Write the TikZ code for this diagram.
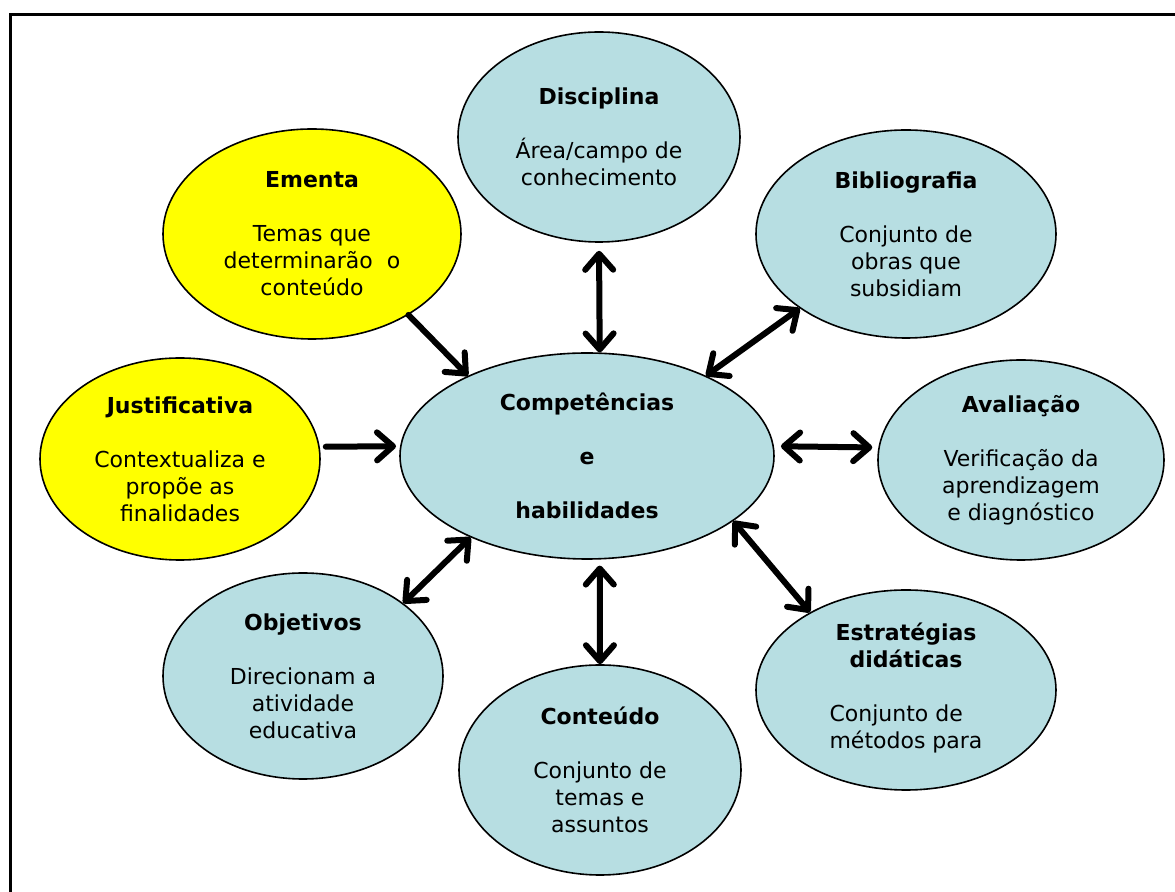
\documentclass[tikz,border=0pt]{standalone}
\usepackage{fontspec}
\setmainfont{DejaVu Sans}
\usetikzlibrary{shapes.geometric, arrows.meta}
\definecolor{bubblue}{RGB}{183,222,226}
\definecolor{bubyellow}{RGB}{255,255,0}
\tikzstyle{bubble} = [ellipse, draw=black, line width=0.8pt, inner sep=0pt, align=center, font=\fontsize{11}{13.5}\selectfont, fill=bubblue]
\tikzstyle{yellowbubble} = [bubble, fill=bubyellow]
\tikzstyle{arrow} = [line width=3pt, line cap=round, -{Straight Barb[length=8pt,width=14pt,round]}]
\tikzstyle{dblarrow} = [arrow, {Straight Barb[length=8pt,width=14pt,round]}-{Straight Barb[length=8pt,width=14pt,round]}]

\begin{document}
\begin{tikzpicture}[x=0.5pt, y=-0.5pt]
    \useasboundingbox (0,0) rectangle (1175,892);
    % frame
    \draw [line width=1.5pt] (1175,15) -- (10,15) -- (10,892);

    % center
    \node (comp) [bubble, minimum width=187pt, minimum height=103pt] at (587,456) {\textbf{Competências}\\[13.5pt]\textbf{e}\\[13.5pt]\textbf{habilidades}};

    % around it
    \node (disc) [bubble, minimum width=141pt, minimum height=105pt] at (599,137) {\textbf{Disciplina}\\[13.5pt]Área/campo de\\conhecimento};
    \node (bib) [bubble, minimum width=150pt, minimum height=104pt] at (906,234) {\textbf{Bibliografia}\\[13.5pt]Conjunto de\\obras que\\subsidiam};
    \node (ementa) [yellowbubble, minimum width=149pt, minimum height=105pt] at (312,234) {\textbf{Ementa}\\[13.5pt]Temas que\\determinarão~ o\\conteúdo};
    \node (just) [yellowbubble, minimum width=140pt, minimum height=101pt] at (180,459) {\textbf{Justificativa}\\[13.5pt]Contextualiza e\\propõe as\\finalidades};
    \node (aval) [bubble, minimum width=143pt, minimum height=100pt] at (1021,460) {\textbf{Avaliação}\\[13.5pt]Verificação da\\aprendizagem\\e diagnóstico};
    \node (obj) [bubble, minimum width=140pt, minimum height=103pt] at (303,676) {\textbf{Objetivos}\\[13.5pt]Direcionam a\\atividade\\educativa};
    \node (cont) [bubble, minimum width=141pt, minimum height=105pt] at (600,770) {\textbf{Conteúdo}\\[13.5pt]Conjunto de\\temas e\\assuntos};
    \node (estr) [bubble, minimum width=150pt, minimum height=100pt] at (906,690) {\textbf{Estratégias}\\\textbf{didáticas}\\[13.5pt]\begin{tabular}[t]{@{}l@{}}Conjunto de\\métodos para\end{tabular}};

    % arrows
    \draw [arrow] (ementa.-40) -- (comp.146);
    \draw [arrow, shorten <=3pt, shorten >=2pt] (just.5) -- (comp.177);
    \draw [dblarrow, shorten <=4pt] (disc.south) -- (comp.83);
    \draw [dblarrow] (bib.215) -- (comp.34);
    \draw [dblarrow, shorten <=3.5pt, shorten >=3pt] (comp.3) -- (aval.175);
    \draw [dblarrow] (comp.-24) -- (estr.141);
    \draw [dblarrow, shorten <=3pt] (comp.-83) -- (cont.north);
    \draw [dblarrow] (comp.215) -- (obj.36);
\end{tikzpicture}
\end{document}
